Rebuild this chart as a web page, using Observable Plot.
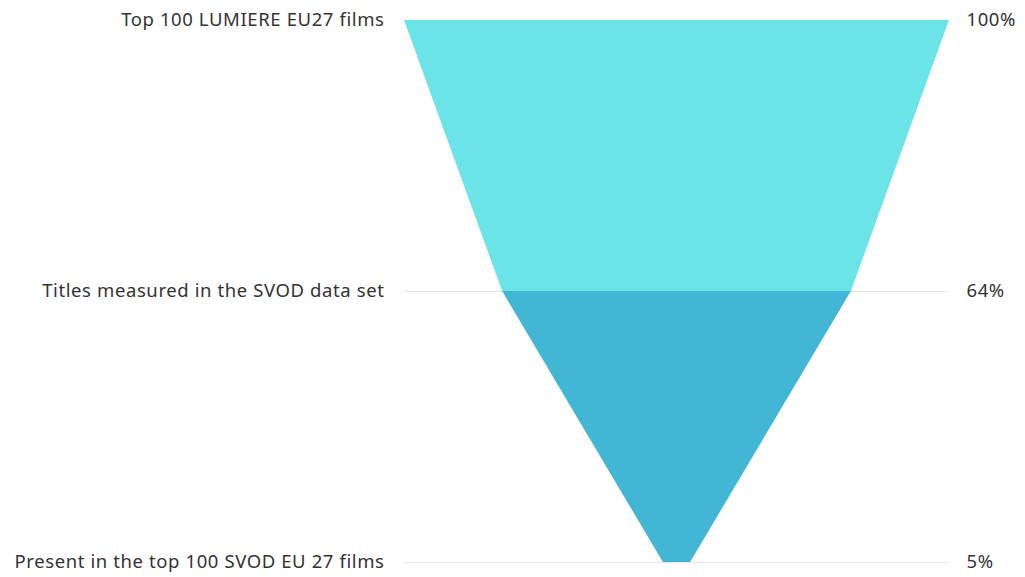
<!DOCTYPE html>
<html>
<head>
<meta charset="utf-8">
<script src="https://cdn.jsdelivr.net/npm/d3@7"></script>
<script src="https://cdn.jsdelivr.net/npm/@observablehq/plot@0.6"></script>
<style>
  html, body { margin: 0; padding: 0; background: #ffffff; }
  #chart svg { display: block; }
  #chart svg text { letter-spacing: 0.6px; }
</style>
</head>
<body>
<div id="chart"></div>
<script>
// Funnel stages, top to bottom
const stages = [
  "Top 100 LUMIERE EU27 films",
  "Titles measured in the SVOD data set",
  "Present in the top 100 SVOD EU 27 films"
];
// Share of the starting set retained at each stage (%)
const shares = [100, 64, 5];
// Fill of each band between two consecutive stages
const bandColors = ["#6be4e8", "#42b7d5"];

// Each band is a trapezoid: an area spanning from one stage to the next,
// centred on zero with a width equal to the share.
const bands = [];
for (let i = 0; i < stages.length - 1; i++) {
  bands.push({band: i, level: i, share: shares[i]});
  bands.push({band: i, level: i + 1, share: shares[i + 1]});
}
const levels = stages.map((_, i) => i);

const chart = Plot.plot({
  width: 1025,
  height: 577,
  marginLeft: 404,
  marginRight: 76,
  marginTop: 20,
  marginBottom: 15,
  style: {fontFamily: "'Noto Sans', sans-serif", color: "#333333", background: "#ffffff"},
  x: {domain: [-50, 50], axis: null},
  y: {domain: [0, stages.length - 1], reverse: true, axis: null},
  color: {domain: d3.range(bandColors.length), range: bandColors},
  marks: [
    Plot.ruleY(levels, {x1: -50, x2: 50, stroke: "#e8e8e8", strokeWidth: 1.2}),
    Plot.areaX(bands, {
      y: "level",
      x1: d => -d.share / 2,
      x2: d => d.share / 2,
      z: "band",
      fill: "band",
      curve: "linear"
    }),
    Plot.text(stages, {
      x: -50, y: (d, i) => i, text: d => d,
      dx: -20, textAnchor: "end", fontSize: 18.5, fill: "#333333"
    }),
    Plot.text(shares, {
      x: 50, y: (d, i) => i, text: d => `${d}%`,
      dx: 17, textAnchor: "start", fontSize: 18.5, fill: "#333333"
    })
  ]
});
document.getElementById("chart").append(chart);
</script>
</body>
</html>
